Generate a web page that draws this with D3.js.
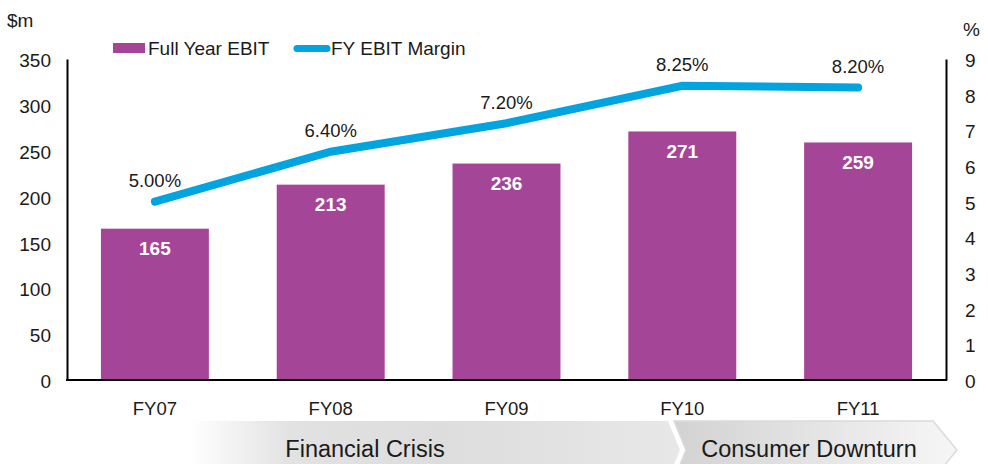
<!DOCTYPE html>
<html>
<head>
<meta charset="utf-8">
<script src="https://cdn.jsdelivr.net/npm/d3@7"></script>
<style>
  html, body { margin: 0; padding: 0; background: #fff; }
  svg { display: block; font-family: "Liberation Sans", Arial, sans-serif; }
</style>
</head>
<body>
<svg id="chart" width="988" height="464"></svg>
<script>
const categories = ["FY07", "FY08", "FY09", "FY10", "FY11"];
const ebitValues = [165, 213, 236, 271, 259];
const marginValues = [5.00, 6.40, 7.20, 8.25, 8.20];
const marginLabels = ["5.00%", "6.40%", "7.20%", "8.25%", "8.20%"];
const leftTicks = [0, 50, 100, 150, 200, 250, 300, 350];
const rightTicks = [0, 1, 2, 3, 4, 5, 6, 7, 8, 9];
const periodLabels = ["Financial Crisis", "Consumer Downturn"];
const legendLabels = ["Full Year EBIT", "FY EBIT Margin"];

(function () {
const barColor = "#A54598";
const lineColor = "#00A5E0";

const svg = d3.select("#chart");
const pLeft = 67, pRight = 946, pTop = 59, pBottom = 380;

const x = d3.scaleBand().domain(categories).range([pLeft, pRight])
  .paddingInner(0.386).paddingOuter(0.193);
const yL = d3.scaleLinear().domain([0, 350]).range([pBottom, pTop]);
const yR = d3.scaleLinear().domain([0, 9]).range([pBottom, pTop]);

// Bottom period band
const defs = svg.append("defs");
const g1 = defs.append("linearGradient").attr("id", "g1")
  .attr("gradientUnits", "userSpaceOnUse").attr("x1", 190).attr("x2", 690).attr("y1", 0).attr("y2", 0);
g1.append("stop").attr("offset", "0").attr("stop-color", "#ffffff");
g1.append("stop").attr("offset", "0.2").attr("stop-color", "#e2e2e2");
g1.append("stop").attr("offset", "0.5").attr("stop-color", "#dddddd");
g1.append("stop").attr("offset", "1").attr("stop-color", "#e8e8e8");
const g2 = defs.append("linearGradient").attr("id", "g2")
  .attr("gradientUnits", "userSpaceOnUse").attr("x1", 672).attr("x2", 957).attr("y1", 0).attr("y2", 0);
g2.append("stop").attr("offset", "0").attr("stop-color", "#d2d2d2");
g2.append("stop").attr("offset", "1").attr("stop-color", "#f6f6f6");

const bandTop = 421, bandMid = 450, bandBot = 479;
svg.append("path")
  .attr("d", `M110,${bandTop}L668,${bandTop}L680,${bandMid}L668,${bandBot}L110,${bandBot}Z`)
  .attr("fill", "url(#g1)");
svg.append("path")
  .attr("d", `M674,${bandTop}L933,${bandTop}L957,${bandMid}L933,${bandBot}L674,${bandBot}L686,${bandMid}Z`)
  .attr("fill", "url(#g2)").attr("stroke", "#dadada").attr("stroke-width", 1.5);

svg.append("text").attr("x", 365).attr("y", 457).attr("text-anchor", "middle")
  .attr("font-size", 23.5).attr("fill", "#1a1a1a").text(periodLabels[0]);
svg.append("text").attr("x", 809).attr("y", 457).attr("text-anchor", "middle")
  .attr("font-size", 23.5).attr("fill", "#1a1a1a").text(periodLabels[1]);

// Bars
svg.append("g").selectAll("rect").data(categories).join("rect")
  .attr("x", d => x(d)).attr("width", x.bandwidth())
  .attr("y", (d, i) => yL(ebitValues[i]))
  .attr("height", (d, i) => yL(0) - yL(ebitValues[i]))
  .attr("fill", barColor);

// Bar value labels
svg.append("g").selectAll("text").data(categories).join("text")
  .attr("x", d => x(d) + x.bandwidth() / 2)
  .attr("y", (d, i) => yL(ebitValues[i]) + 26.5)
  .attr("text-anchor", "middle").attr("font-size", 19).attr("font-weight", "bold")
  .attr("fill", "#ffffff").text((d, i) => ebitValues[i]);

// Axes
const axisL = d3.axisLeft(yL).tickValues(leftTicks).tickSize(0).tickPadding(16);
const gL = svg.append("g").attr("transform", `translate(${pLeft},0)`).call(axisL);
gL.select(".domain").attr("stroke", "#000").attr("stroke-width", 2);
gL.selectAll("text").attr("font-size", 19).attr("fill", "#1a1a1a")
  .attr("font-family", "Liberation Sans, Arial, sans-serif").attr("dy", "0.4em");

const axisR = d3.axisRight(yR).tickValues(rightTicks).tickSize(0).tickPadding(19);
const gR = svg.append("g").attr("transform", `translate(${pRight},0)`).call(axisR);
gR.select(".domain").attr("stroke", "#000").attr("stroke-width", 2);
gR.selectAll("text").attr("font-size", 19).attr("fill", "#1a1a1a")
  .attr("font-family", "Liberation Sans, Arial, sans-serif").attr("dy", "0.4em");

const axisB = d3.axisBottom(x).tickSize(0).tickPadding(22);
const gB = svg.append("g").attr("transform", `translate(0,${pBottom})`).call(axisB);
gB.select(".domain").attr("d", `M${pLeft - 1},0H${pRight + 1}`).attr("stroke", "#000").attr("stroke-width", 2);
gB.selectAll("text").attr("font-size", 18.5).attr("fill", "#1a1a1a")
  .attr("font-family", "Liberation Sans, Arial, sans-serif");

// Line
const line = d3.line()
  .x((d, i) => x(categories[i]) + x.bandwidth() / 2)
  .y(d => yR(d));
svg.append("path").datum(marginValues).attr("d", line)
  .attr("fill", "none").attr("stroke", lineColor).attr("stroke-width", 8)
  .attr("stroke-linecap", "round").attr("stroke-linejoin", "miter");

svg.append("g").selectAll("text").data(marginValues).join("text")
  .attr("x", (d, i) => x(categories[i]) + x.bandwidth() / 2)
  .attr("y", d => yR(d) - 14.5)
  .attr("text-anchor", "middle").attr("font-size", 18.5).attr("fill", "#1a1a1a")
  .text((d, i) => marginLabels[i]);

// Unit labels
svg.append("text").attr("x", 7).attr("y", 27).attr("font-size", 19).attr("fill", "#1a1a1a").text("$m");
svg.append("text").attr("x", 963).attr("y", 36).attr("font-size", 19).attr("fill", "#1a1a1a").text("%");

// Legend
const lg = svg.append("g");
lg.append("rect").attr("x", 113).attr("y", 43).attr("width", 32).attr("height", 10).attr("fill", barColor);
lg.append("text").attr("x", 148).attr("y", 55).attr("font-size", 19).attr("fill", "#1a1a1a").text(legendLabels[0]);
lg.append("line").attr("x1", 297).attr("x2", 327).attr("y1", 48.5).attr("y2", 48.5)
  .attr("stroke", lineColor).attr("stroke-width", 7).attr("stroke-linecap", "round");
lg.append("text").attr("x", 331).attr("y", 55).attr("font-size", 19).attr("fill", "#1a1a1a").text(legendLabels[1]);
})();
</script>
</body>
</html>
